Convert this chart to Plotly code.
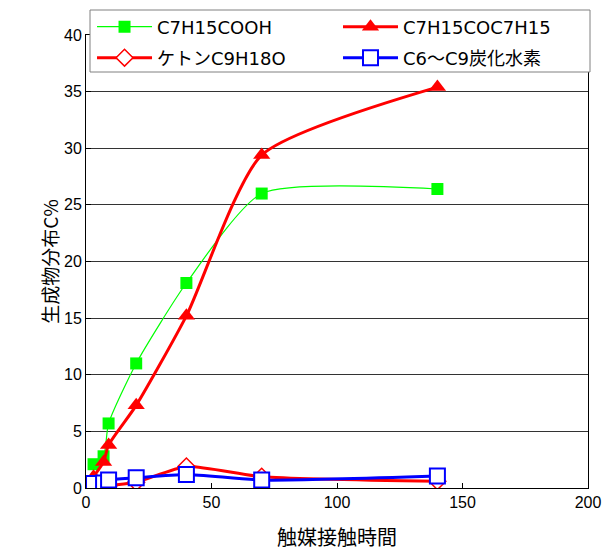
import plotly.graph_objects as go

x_time = [3, 7, 9, 20, 40, 70, 140]
acid = [2.1, 2.8, 5.7, 11.0, 18.1, 26.0, 26.4]
ether = [1.0, 2.3, 3.8, 7.3, 15.2, 29.4, 35.4]
ketone = [0.1, 0.1, 0.2, 0.5, 1.9, 1.0, 0.6]
hydro = [0.4, 0.45, 0.7, 0.9, 1.2, 0.7, 1.05]

names = ["C7H15COOH", "C7H15COC7H15", "ケトンC9H18O", "C6～C9炭化水素"]

FONT = "Liberation Sans, Arial, Noto Sans CJK JP, sans-serif"
LFONT = "DejaVu Sans, Noto Sans CJK JP, sans-serif"

fig = go.Figure()
fig.add_trace(go.Scatter(x=x_time, y=acid, name=names[0], mode="lines+markers", legend="legend",
                         line=dict(color="#00ff00", width=1.2, shape="spline", smoothing=0.6),
                         marker=dict(symbol="square", size=12, color="#00ff00")))
fig.add_trace(go.Scatter(x=x_time, y=ether, name=names[1], mode="lines+markers", legend="legend",
                         line=dict(color="#ff0000", width=3, shape="spline", smoothing=0.6),
                         marker=dict(symbol="triangle-up", size=15, color="#ff0000")))
fig.add_trace(go.Scatter(x=x_time, y=ketone, name=names[2], mode="lines+markers", legend="legend2",
                         line=dict(color="#ff0000", width=3, shape="spline", smoothing=0.6),
                         marker=dict(symbol="diamond", size=13, color="white",
                                     line=dict(color="#ff0000", width=1.5))))
fig.add_trace(go.Scatter(x=x_time, y=hydro, name=names[3], mode="lines+markers", legend="legend2",
                         line=dict(color="#0000ff", width=3, shape="spline", smoothing=0.6),
                         marker=dict(symbol="square", size=15, color="white",
                                     line=dict(color="#0000ff", width=2))))

leg_common = dict(orientation="h", x=0.012, xanchor="left", yanchor="middle",
                  bgcolor="rgba(0,0,0,0)", borderwidth=0,
                  entrywidth=0.49, entrywidthmode="fraction", itemwidth=55,
                  font=dict(family=LFONT, size=18))

fig.update_layout(
    width=606, height=551,
    margin=dict(l=86, r=18, t=35, b=63, autoexpand=False),
    paper_bgcolor="white", plot_bgcolor="white",
    font=dict(family=FONT, size=16, color="black"),
    legend=dict(y=(488 - 27) / 453, **leg_common),
    legend2=dict(y=(488 - 58) / 453, **leg_common),
    shapes=[dict(type="rect", xref="paper", yref="paper",
                 x0=4 / 502, x1=504 / 502, y0=(488 - 72) / 453, y1=(488 - 10) / 453,
                 fillcolor="white", line=dict(color="#808080", width=1), layer="above")],
    xaxis=dict(range=[0, 200], tickvals=[0, 50, 100, 150, 200],
               showgrid=False, showline=True, linecolor="black", linewidth=1,
               mirror=True, ticks="inside", ticklen=5, tickcolor="black",
               zeroline=False,
               title=dict(text="触媒接触時間", font=dict(family="Noto Sans CJK JP", size=20),
                          standoff=27)),
    yaxis=dict(range=[0, 40], tickvals=list(range(0, 41, 5)),
               showgrid=True, gridcolor="#333333", gridwidth=1,
               showline=True, linecolor="black", linewidth=1, mirror=True,
               ticks="inside", ticklen=5, tickcolor="black", zeroline=False,
               title=dict(text="生成物分布C%", font=dict(family="Noto Sans CJK JP", size=19),
                          standoff=0)),
    showlegend=True,
)

fig.write_html("out.html")
